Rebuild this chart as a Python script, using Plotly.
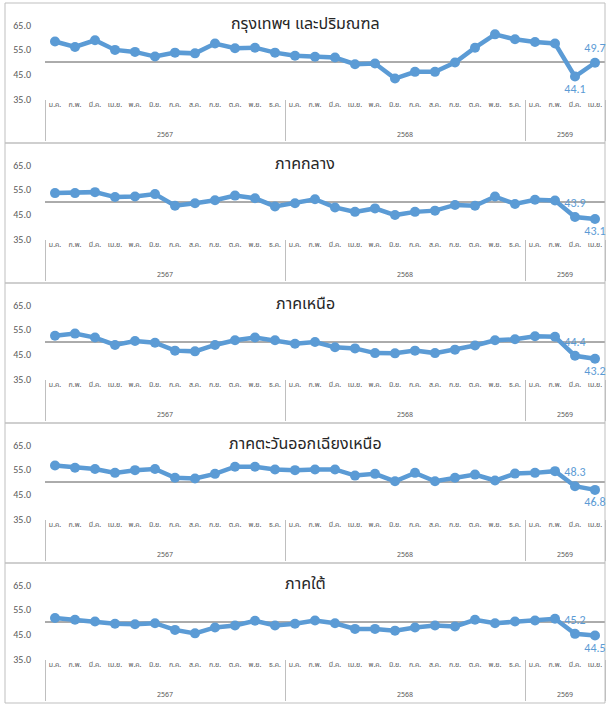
import plotly.graph_objects as go

W, H = 606, 704

months = ["ม.ค.", "ก.พ.", "มี.ค.", "เม.ย.", "พ.ค.", "มิ.ย.",
          "ก.ค.", "ส.ค.", "ก.ย.", "ต.ค.", "พ.ย.", "ธ.ค."]
years = ["2567", "2568", "2569"]
months_per_year = [12, 12, 4]

titles = ["กรุงเทพฯ และปริมณฑล", "ภาคกลาง", "ภาคเหนือ",
          "ภาคตะวันออกเฉียงเหนือ", "ภาคใต้"]

bangkok = [58.3, 56.1, 58.8, 54.9, 54.1, 52.2, 53.8, 53.5, 57.5, 55.6, 55.8, 53.8,
           52.5, 52.1, 51.8, 49.1, 49.4, 43.3, 46.0, 46.0, 49.8, 55.8, 61.2, 59.2,
           58.1, 57.5, 44.1, 49.7]
central = [53.6, 53.6, 54.0, 52.0, 52.2, 53.2, 48.5, 49.5, 50.7, 52.6, 51.5, 48.2,
           49.5, 51.1, 47.8, 46.0, 47.4, 44.7, 46.0, 46.5, 48.8, 48.5, 52.2, 49.2,
           50.9, 50.6, 43.9, 43.1]
north = [52.5, 53.4, 51.8, 48.8, 50.4, 49.7, 46.5, 46.2, 48.8, 50.7, 51.8, 50.7,
         49.3, 50.0, 47.9, 47.4, 45.5, 45.4, 46.5, 45.5, 46.9, 48.6, 50.7, 51.1,
         52.3, 52.1, 44.4, 43.2]
northeast = [56.7, 55.8, 55.3, 53.7, 54.8, 55.3, 51.7, 51.4, 53.3, 56.2, 56.2, 55.1,
             54.8, 55.1, 55.1, 52.6, 53.3, 50.3, 53.7, 50.3, 51.7, 53.0, 50.6, 53.4,
             53.7, 54.4, 48.3, 46.8]
south = [51.6, 50.9, 50.2, 49.3, 49.1, 49.5, 46.8, 45.4, 47.8, 48.6, 50.5, 48.6,
         49.3, 50.6, 49.5, 47.2, 47.2, 46.5, 47.8, 48.6, 48.2, 50.9, 49.5, 50.2,
         50.6, 51.3, 45.2, 44.5]

series = [bangkok, central, north, northeast, south]
label_pos = [("bottom center", "top center"),
             ("top center", "bottom center"),
             ("top center", "bottom center"),
             ("top center", "bottom center"),
             ("top center", "bottom center")]

yticks = [35, 45, 55, 65]
threshold = 50

x_year = []
x_month = []
for y, n in zip(years, months_per_year):
    for m in months[:n]:
        x_year.append("<br><br>" + y)   # blank lines push the year row down
        x_month.append(m)

BLUE = "#5B9BD5"
GREY_TXT = "#595959"
BORDER = "#BFBFBF"
FONT = "Tahoma, 'Noto Sans Thai', 'Noto Sans', sans-serif"
NUMFONT = "Calibri, Carlito, 'Liberation Sans', sans-serif"

fig = go.Figure()

PANEL_H = 140
TOP0 = 3
xdom = [45 / W, 605 / W]

for k, vals in enumerate(series):
    n = len(vals)
    text = [""] * n
    pos = ["top center"] * n
    text[-2] = f"{vals[-2]:.1f}"
    text[-1] = f"{vals[-1]:.1f}"
    pos[-2], pos[-1] = label_pos[k]
    sfx = "" if k == 0 else str(k + 1)
    fig.add_trace(go.Scatter(
        x=[x_year, x_month], y=vals,
        mode="lines+markers+text",
        line=dict(color=BLUE, width=4.5),
        marker=dict(color=BLUE, size=10),
        text=text, textposition=pos,
        textfont=dict(color=BLUE, size=12, family=NUMFONT),
        cliponaxis=False,
        xaxis="x" + sfx, yaxis="y" + sfx,
        showlegend=False, hoverinfo="skip",
    ))
    top_plot = 25 + PANEL_H * k
    bot_plot = 99 + PANEL_H * k
    ydom = [(H - bot_plot) / H, (H - top_plot) / H]
    fig.layout["xaxis" + sfx] = dict(
        type="multicategory", domain=xdom, anchor="y" + sfx,
        range=[-0.5, n - 0.5],
        showline=False, showgrid=False,
        ticks="outside", ticklen=12, tickcolor="rgba(0,0,0,0)", tickangle=0,
        showdividers=True, dividercolor=BORDER, dividerwidth=1,
        tickfont=dict(size=7, color=GREY_TXT, family=FONT),
        automargin=False, fixedrange=True,
    )
    fig.layout["yaxis" + sfx] = dict(
        domain=ydom, anchor="x" + sfx, range=[35, 65],
        tickvals=yticks, tickformat=".1f",
        showgrid=False, zeroline=False, showline=False, ticks="",
        tickfont=dict(size=10, color=GREY_TXT, family=NUMFONT),
        ticklabelstandoff=13, automargin=False,
        fixedrange=True,
    )
    fig.add_shape(type="line", xref="x" + sfx + " domain", yref="y" + sfx,
                  x0=0, x1=1, y0=threshold, y1=threshold,
                  line=dict(color="#595959", width=1), layer="below")
    ptop = TOP0 + PANEL_H * k
    fig.add_shape(type="rect", xref="paper", yref="paper",
                  x0=5 / W, x1=605 / W,
                  y0=(H - ptop - PANEL_H) / H, y1=(H - ptop) / H,
                  line=dict(color=BORDER, width=1), layer="below")
    fig.add_annotation(text=titles[k], xref="paper", yref="paper",
                       x=305 / W, y=(H - ptop - 21) / H,
                       xanchor="center", yanchor="middle", showarrow=False,
                       font=dict(size=16, color="#262626", family=FONT))

fig.update_layout(
    width=W, height=H,
    margin=dict(l=0, r=0, t=0, b=0),
    paper_bgcolor="white", plot_bgcolor="white",
)

fig.write_html("out.html",
               config={"displayModeBar": False},
               post_script="document.body.style.margin='0';document.body.style.overflow='hidden';")
